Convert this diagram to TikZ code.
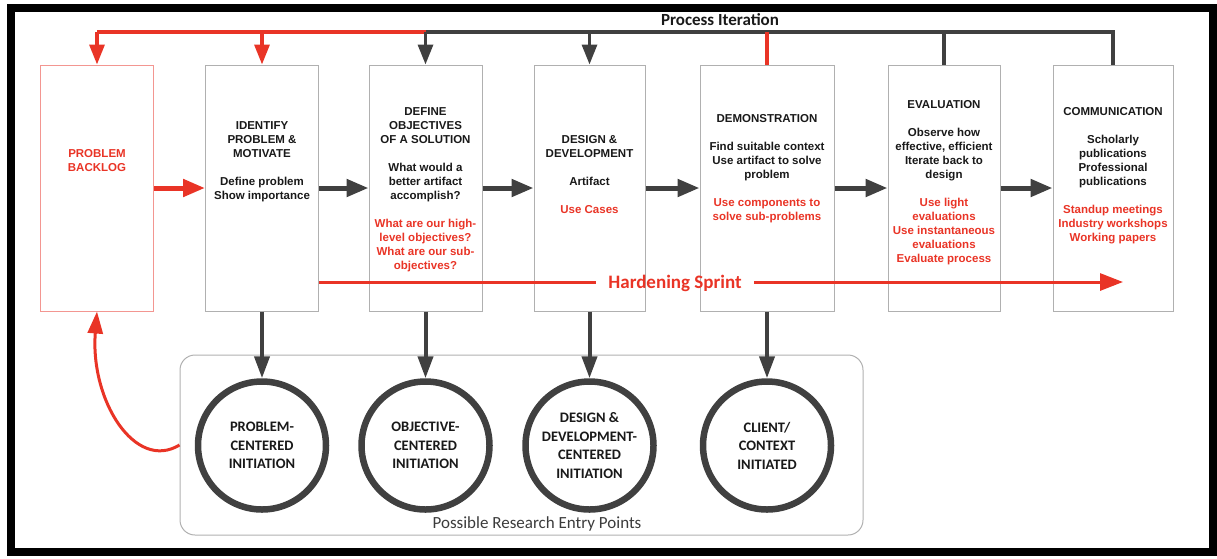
\documentclass[tikz,border=0pt]{standalone}
\usepackage{fontspec}
\setmainfont{Liberation Sans}
\newfontfamily\carlito{Carlito}
\usetikzlibrary{arrows.meta}
\definecolor{myred}{RGB}{233,52,38}
\definecolor{arrgray}{RGB}{64,64,64}
\definecolor{boxline}{RGB}{176,176,176}
\definecolor{backline}{RGB}{243,150,145}
\definecolor{txt}{RGB}{25,25,25}
\newcommand\redln[1]{\textcolor{myred}{#1}}
\begin{document}
\begin{tikzpicture}[x=1pt,y=-1pt,
  stagebox/.style={draw=boxline, line width=1pt, minimum width=#1, minimum height=246pt, inner sep=0pt},
  boxtext/.style={anchor=north, align=center, inner sep=0pt, text=txt, font=\fontsize{11.5}{14}\selectfont\bfseries},
  flow/.style={line width=5pt, draw=arrgray, -{Triangle[length=22pt,width=17pt]}},
  flowred/.style={flow, draw=myred},
  bar/.style={line width=3.3pt, draw=arrgray},
  barred/.style={bar, draw=myred},
  drop/.style={bar, -{Triangle[length=20pt,width=15pt]}},
  dropred/.style={drop, draw=myred},
  down/.style={line width=4pt, draw=arrgray, -{Triangle[length=22pt,width=15pt]}},
  entrycirc/.style={circle, draw=arrgray, line width=6.5pt, minimum size=128pt, inner sep=0pt, align=center, text=txt, font=\carlito\bfseries\fontsize{14.5}{18.5}\selectfont},
  curvered/.style={line width=3pt, draw=myred, -{Triangle[length=22pt,width=15pt]}}
]
\useasboundingbox (0,0) rectangle (1217,558);
% outer frame
\draw[line width=8pt] (11,7.5) rectangle (1213,552);

% title
\node[font=\carlito\bfseries\fontsize{17}{20}\selectfont, text=txt, inner sep=0pt] (piter) at (720,20) {Process Iteration};

% stage boxes
\node[stagebox=113pt, draw=backline] (backlog) at (97,188) {};
\node[stagebox=113pt] (identify) at (262,188) {};
\node[stagebox=113pt] (define) at (425.5,188) {};
\node[stagebox=111pt] (design) at (589.5,188) {};
\node[stagebox=134pt] (demo) at (767,188) {};
\node[stagebox=112pt] (eval) at (944,188) {};
\node[stagebox=120pt] (comm) at (1113,188) {};

% box texts
\node[boxtext, text=myred] (tBacklog) at (97,149) {PROBLEM\\BACKLOG};
\node[boxtext] (tIdentify) at (262,121) {IDENTIFY\\PROBLEM \&\\MOTIVATE\\[14pt]Define problem\\Show importance};
\node[boxtext] (tDefine) at (425.5,107) {DEFINE\\OBJECTIVES\\OF A SOLUTION\\[14pt]What would a\\better artifact\\accomplish?\\[14pt]\redln{What are our high-}\\\redln{level objectives?}\\\redln{What are our sub-}\\\redln{objectives?}};
\node[boxtext] (tDesign) at (589.5,135) {DESIGN \&\\DEVELOPMENT\\[14pt]Artifact\\[14pt]\redln{Use Cases}};
\node[boxtext] (tDemo) at (767,114) {DEMONSTRATION\\[14pt]Find suitable context\\Use artifact to solve\\problem\\[14pt]\redln{Use components to}\\\redln{solve sub-problems}};
\node[boxtext] (tEval) at (944,100) {EVALUATION\\[14pt]Observe how\\effective, efficient\\Iterate back to\\design\\[14pt]\redln{Use light}\\\redln{evaluations}\\\redln{Use instantaneous}\\\redln{evaluations}\\\redln{Evaluate process}};
\node[boxtext] (tComm) at (1113,107) {COMMUNICATION\\[14pt]Scholarly\\publications\\Professional\\publications\\[14pt]\redln{Standup meetings}\\\redln{Industry workshops}\\\redln{Working papers}};

% horizontal flow arrows
\draw[flowred] (backlog.east) -- (identify.west);
\draw[flow] (identify.east) -- (define.west);
\draw[flow] (define.east) -- (design.west);
\draw[flow] (design.east) -- (demo.west);
\draw[flow] (demo.east) -- (eval.west);
\draw[flow] (eval.east) -- (comm.west);

% top iteration bar
\coordinate (bBacklog) at (backlog.north |- 0,32);
\coordinate (bIdentify) at (identify.north |- 0,32);
\coordinate (bDefine) at (define.north |- 0,32);
\coordinate (bDesign) at (design.north |- 0,32);
\coordinate (bDemo) at (demo.north |- 0,32);
\coordinate (bEval) at (eval.north |- 0,32);
\coordinate (bComm) at (comm.north |- 0,32);
\draw[bar] (comm.north) -- (bComm) -- (bDefine);
\draw[bar] (eval.north) -- (bEval);
\draw[barred] (demo.north) -- (bDemo);
\draw[barred] (bDefine) -- (bBacklog);
\draw[drop] (bDefine) -- (define.north);
\draw[drop] (bDesign) -- (design.north);
\draw[dropred] (bBacklog) -- (backlog.north);
\draw[dropred] (bIdentify) -- (identify.north);

% hardening sprint
\node[font=\carlito\bfseries\fontsize{19}{22}\selectfont, text=myred, inner xsep=12pt, inner ysep=0pt] (hard) at (675,283) {Hardening Sprint};
\coordinate (hsStart) at (identify.east |- 0,282);
\coordinate (hsEnd) at (1123,282);
\draw[line width=3pt, draw=myred] (hsStart) -- (hsStart -| hard.west);
\draw[line width=3pt, draw=myred, -{Triangle[length=23pt,width=17pt]}] (hsEnd -| hard.east) -- (hsEnd);

% entry points container
\node[draw=boxline, rounded corners=15pt, line width=1pt, minimum width=683pt, minimum height=180pt, inner sep=0pt] (entry) at (521.5,445) {};
\node[font=\carlito\fontsize{17}{20}\selectfont, text=txt!85, inner sep=0pt] (prep) at (537,524) {Possible Research Entry Points};

\node[entrycirc] (c1) at (262,445.5) {PROBLEM-\\CENTERED\\INITIATION};
\node[entrycirc] (c2) at (425.5,445.5) {OBJECTIVE-\\CENTERED\\INITIATION};
\node[entrycirc] (c3) at (589.5,445.5) {DESIGN \&\\DEVELOPMENT-\\CENTERED\\INITIATION};
\node[entrycirc] (c4) at (767,445.5) {CLIENT/\\CONTEXT\\INITIATED};

\draw[down] (identify.south) -- (c1.north);
\draw[down] (define.south) -- (c2.north);
\draw[down] (design.south) -- (c3.north);
\draw[down] (demo.south) -- (c4.north);

% back to backlog
\draw[curvered] (entry.west) .. controls (135,472) and (90,400) .. (backlog.south);
\end{tikzpicture}
\end{document}
